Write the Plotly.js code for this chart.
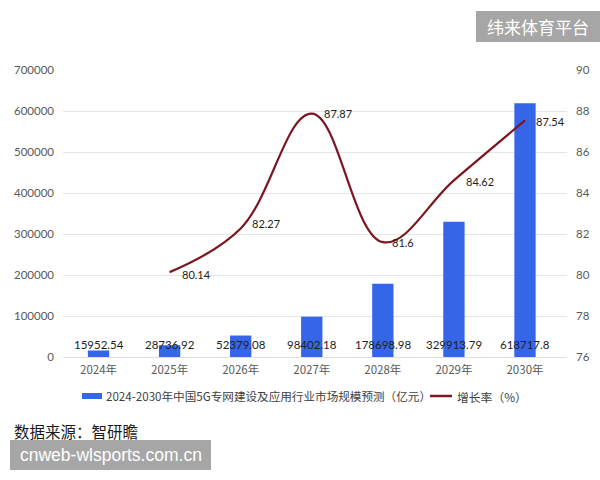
<!DOCTYPE html>
<html>
<head>
<meta charset="utf-8">
<script src="https://cdn.plot.ly/plotly-3.0.1.min.js"></script>
<style>
html,body{margin:0;padding:0;background:#fff;}
#chart{width:600px;height:480px;}
</style>
</head>
<body>
<div id="chart"></div>
<script>
const categories = ["2024年","2025年","2026年","2027年","2028年","2029年","2030年"];
const marketSize = [15952.54, 28736.92, 52379.08, 98402.18, 178698.98, 329913.79, 618717.8];
const growthRate = [null, 80.14, 82.27, 87.87, 81.6, 84.62, 87.54];
const barName = "2024-2030年中国5G专网建设及应用行业市场规模预测（亿元）";
const lineName = "增长率（%）";
const sourceText = "数据来源：智研瞻";
const watermarkTop = "纬来体育平台";
const watermarkBottom = "cnweb-wlsports.com.cn";

const FONT = "Lato, 'Noto Sans CJK SC', sans-serif";
const CJK = "'Noto Sans CJK SC', sans-serif";
const BAR_COLOR = "#3566e8";
const LINE_COLOR = "#7c1620";

// pixel -> paper helpers (plot area: x 63..567, y 70..357)
const L = 63, R = 33, T = 70, B = 123, W = 600, H = 480;
const pw = W - L - R, ph = H - T - B;
const px = v => (v - L) / pw;
const py = v => (H - B - v) / ph;

const bars = {
  type: "bar", x: categories, y: marketSize, name: barName,
  marker: {color: BAR_COLOR}, width: 0.3, showlegend: false
};
const line = {
  type: "scatter", mode: "lines", x: categories, y: growthRate, yaxis: "y2",
  name: lineName, line: {color: LINE_COLOR, width: 2.2, shape: "spline", smoothing: 1.1},
  connectgaps: false, showlegend: false
};

const annotations = categories.map((c, i) => ({
  x: c, y: 0, xref: "x", yref: "y", text: String(marketSize[i]),
  showarrow: false, yanchor: "bottom", yshift: 4,
  font: {family: FONT, size: 11.5, color: "#222"}
}));

const lineLabelShift = [null, [10, -2], [9, 5], [10, 0], [7, 0], [10, -1], [9, -1]];
growthRate.forEach((v, i) => {
  if (v === null) return;
  annotations.push({
    x: categories[i], y: v, xref: "x", yref: "y2", text: String(v),
    showarrow: false, xanchor: "left", yanchor: "middle",
    xshift: lineLabelShift[i][0], yshift: lineLabelShift[i][1],
    font: {family: FONT, size: 11, color: "#222"}
  });
});

annotations.push(
  // custom legend texts
  {xref: "paper", yref: "paper", x: px(104), y: py(396), xanchor: "left", yanchor: "middle",
   text: barName, showarrow: false, font: {family: CJK, size: 11.6, color: "#404040"}},
  {xref: "paper", yref: "paper", x: px(455), y: py(396), xanchor: "left", yanchor: "middle",
   text: lineName, showarrow: false, font: {family: CJK, size: 11.8, color: "#404040"}},
  {xref: "paper", yref: "paper", x: px(12), y: py(431), xanchor: "left", yanchor: "middle",
   text: sourceText, showarrow: false, font: {family: CJK, size: 15.5, color: "#1a1a1a"}},
  {xref: "paper", yref: "paper", x: px(110.5), y: py(455), xanchor: "center", yanchor: "middle",
   text: watermarkBottom, showarrow: false, font: {family: "'Liberation Sans', Arial, sans-serif", size: 17.5, color: "#fff"}},
  {xref: "paper", yref: "paper", x: px(538), y: py(27), xanchor: "center", yanchor: "middle",
   text: watermarkTop, showarrow: false, font: {family: CJK, size: 17, color: "#fff"}}
);

const shapes = [
  {type: "rect", xref: "paper", yref: "paper", x0: px(10), x1: px(211), y0: py(470), y1: py(440),
   fillcolor: "#a6a6a6", line: {width: 0}, layer: "below"},
  {type: "rect", xref: "paper", yref: "paper", x0: px(476), x1: px(600), y0: py(42), y1: py(11),
   fillcolor: "#a6a6a6", line: {width: 0}, layer: "below"},
  // legend symbols
  {type: "rect", xref: "paper", yref: "paper", x0: px(82), x1: px(102), y0: py(399), y1: py(393),
   fillcolor: BAR_COLOR, line: {width: 0}},
  {type: "line", xref: "paper", yref: "paper", x0: px(430), x1: px(452), y0: py(396), y1: py(396),
   line: {color: LINE_COLOR, width: 2.5}}
];

const layout = {
  width: W, height: H,
  margin: {l: L, r: R, t: T, b: B},
  paper_bgcolor: "#fff", plot_bgcolor: "#fff",
  showlegend: false,
  xaxis: {type: "category", tickfont: {family: CJK, size: 11.5, color: "#595959"},
          showgrid: false, zeroline: false, showline: false, ticks: "", ticklabelstandoff: 4},
  yaxis: {range: [0, 700000], dtick: 100000, tickformat: "d",
          tickfont: {family: FONT, size: 11.5, color: "#595959"},
          gridcolor: "#e6e6e6", gridwidth: 1, zeroline: true, zerolinecolor: "#e0e0e0",
          showline: false, ticks: "", ticklabelstandoff: 8},
  yaxis2: {range: [76, 90], dtick: 2, overlaying: "y", side: "right", showgrid: false,
           zeroline: false, tickfont: {family: FONT, size: 11.5, color: "#595959"},
           ticks: "", ticklabelstandoff: 8},
  annotations: annotations,
  shapes: shapes
};

Plotly.newPlot("chart", [bars, line], layout, {displayModeBar: false, staticPlot: true});
</script>
</body>
</html>
